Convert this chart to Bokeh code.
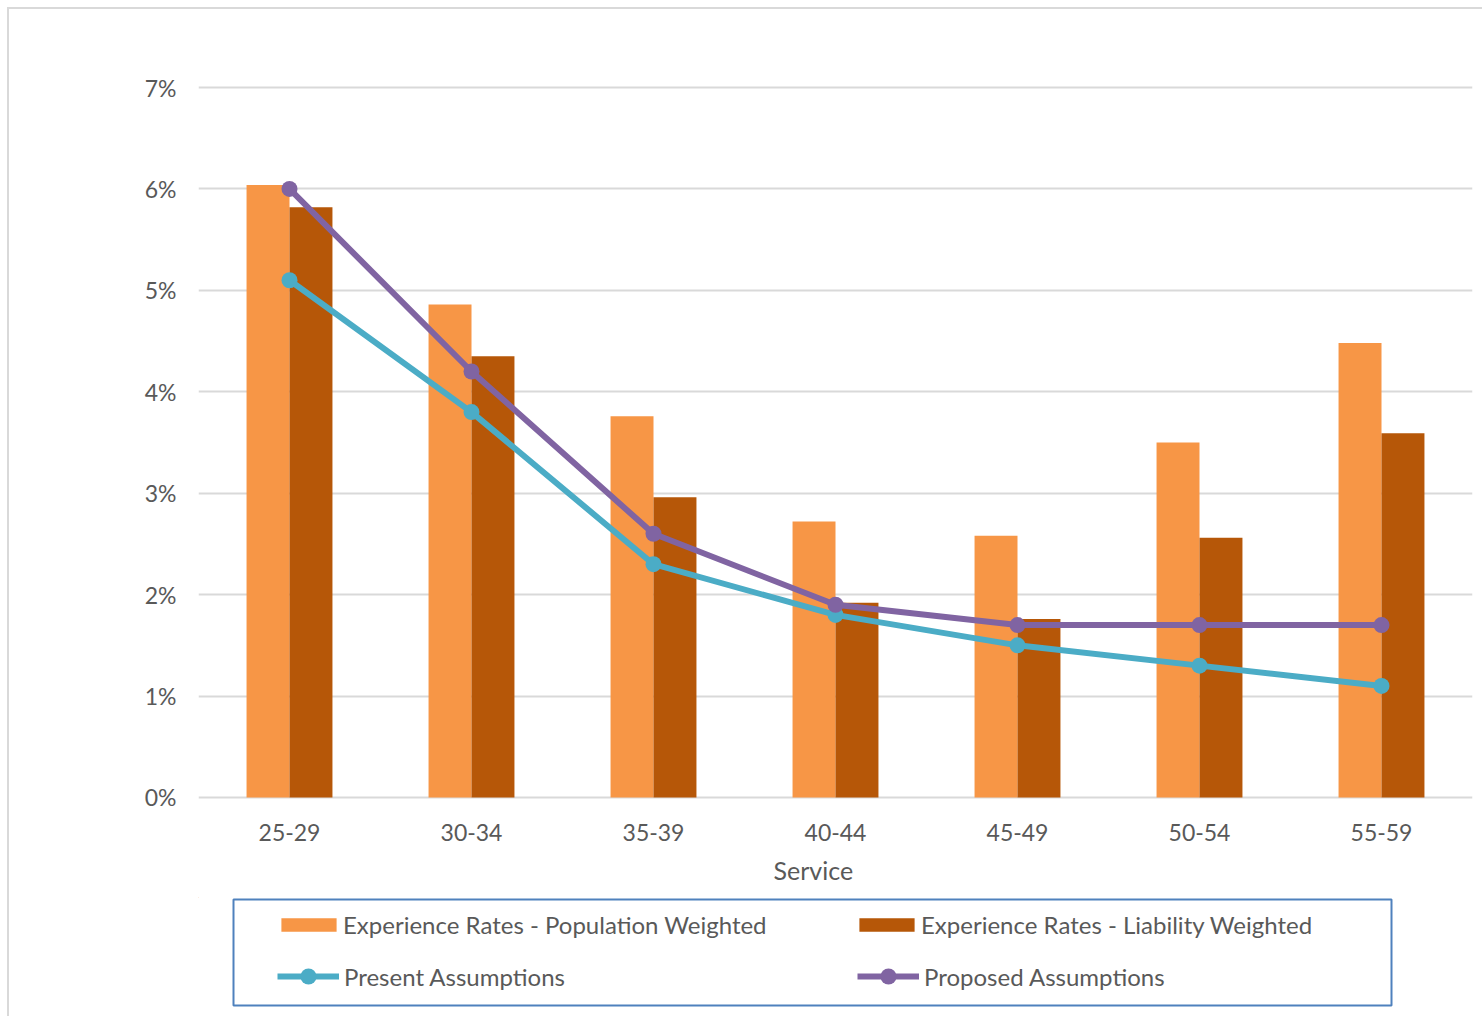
from bokeh.plotting import figure
from bokeh.layouts import column
from bokeh.models import (FactorRange, Legend, LegendItem, Title, BoxAnnotation, Range1d,
                          PrintfTickFormatter, FixedTicker, ColumnDataSource)
from bokeh.transform import dodge
from bokeh.embed import file_html
from bokeh.resources import INLINE

# ---- data ----
categories = ["25-29", "30-34", "35-39", "40-44", "45-49", "50-54", "55-59"]
pop_weighted = [6.04, 4.86, 3.76, 2.72, 2.58, 3.50, 4.48]
liab_weighted = [5.82, 4.35, 2.96, 1.92, 1.76, 2.56, 3.59]
present = [5.1, 3.8, 2.3, 1.8, 1.5, 1.3, 1.1]
proposed = [6.0, 4.2, 2.6, 1.9, 1.7, 1.7, 1.7]
y_ticks = [0, 1, 2, 3, 4, 5, 6, 7]
x_title = "Service"
labels = ["Experience Rates - Population Weighted", "Experience Rates - Liability Weighted",
          "Present Assumptions", "Proposed Assumptions"]

FONT = "Lato"
TEXT = "#595959"
C_POP = "#F79646"
C_LIAB = "#B65708"
C_PRES = "#4BACC6"
C_PROP = "#8064A2"
LW, MS = 6, 16

W, H = 1482, 1016
OFF = 9            # outer chart-area border offset
SPLIT = 897        # page y where the legend strip starts
BL, BR = 198, 10   # left / right borders shared by both figures

src = ColumnDataSource(dict(cat=categories, pop=pop_weighted, liab=liab_weighted,
                            present=present, proposed=proposed))

# ---------------- main chart ----------------
p = figure(x_range=FactorRange(*categories, range_padding=0), y_range=(-0.02, 7.02),
           width=W - OFF, height=SPLIT - OFF, output_backend="svg", toolbar_location=None,
           min_border_left=BL - OFF, min_border_right=BR, min_border_top=85 - OFF,
           min_border_bottom=SPLIT - 799)

bw = 0.236
p.vbar(x=dodge("cat", -bw / 2, range=p.x_range), top="pop", width=bw, source=src,
       fill_color=C_POP, line_color=None)
p.vbar(x=dodge("cat", bw / 2, range=p.x_range), top="liab", width=bw, source=src,
       fill_color=C_LIAB, line_color=None)
p.line(x="cat", y="present", source=src, line_color=C_PRES, line_width=LW)
p.scatter(x="cat", y="present", source=src, size=MS, fill_color=C_PRES, line_color=None)
p.line(x="cat", y="proposed", source=src, line_color=C_PROP, line_width=LW)
p.scatter(x="cat", y="proposed", source=src, size=MS, fill_color=C_PROP, line_color=None)

p.outline_line_color = None
p.xgrid.grid_line_color = None
p.ygrid.grid_line_color = "#D9D9D9"
p.ygrid.grid_line_width = 2
p.yaxis.ticker = FixedTicker(ticks=y_ticks)
p.yaxis.formatter = PrintfTickFormatter(format="%d%%")
for ax in (p.xaxis, p.yaxis):
    ax.axis_line_color = None
    ax.major_tick_line_color = None
    ax.minor_tick_line_color = None
    ax.major_label_text_font = FONT
    ax.major_label_text_font_size = "23px"
    ax.major_label_text_color = TEXT
p.yaxis.major_label_standoff = 16
p.xaxis.major_label_standoff = 18

p.add_layout(Title(text=x_title, align="left", offset=773 - BL, standoff=20,
                   vertical_align="middle", text_font=FONT, text_font_size="25px",
                   text_font_style="normal", text_color=TEXT), "below")

# ---------------- legend strip (page-pixel coordinates) ----------------
LB = 1007
lg = figure(width=W - OFF, height=LB - SPLIT, x_range=Range1d(BL, W - BR),
            y_range=Range1d(LB, SPLIT), output_backend="svg", toolbar_location=None,
            min_border_left=BL - OFF, min_border_right=BR, min_border_top=0, min_border_bottom=0)
lg.axis.visible = False
lg.grid.visible = False
lg.outline_line_color = None
lg.add_layout(BoxAnnotation(left=233, right=1391, top=899, bottom=1005,
                            fill_alpha=0, fill_color=None,
                            line_color="#4F81BD", line_alpha=1.0, line_width=2))
# swatch renderers: one point kept outside the visible range, used only for legend keys
swatch = ColumnDataSource(dict(x=[-50], y=[-50]))
s_pop = lg.vbar(x="x", top="y", width=1, source=swatch, fill_color=C_POP, line_color=None)
s_liab = lg.vbar(x="x", top="y", width=1, source=swatch, fill_color=C_LIAB, line_color=None)
s_pres_l = lg.line(x="x", y="y", source=swatch, line_color=C_PRES, line_width=LW)
s_pres_m = lg.scatter(x="x", y="y", source=swatch, size=MS, fill_color=C_PRES, line_color=None)
s_prop_l = lg.line(x="x", y="y", source=swatch, line_color=C_PROP, line_width=LW)
s_prop_m = lg.scatter(x="x", y="y", source=swatch, size=MS, fill_color=C_PROP, line_color=None)

common = dict(background_fill_alpha=0, border_line_color=None, padding=0, margin=0,
              label_text_font=FONT, label_text_font_size="24px", label_text_color=TEXT,
              orientation="horizontal")
leg1 = Legend(items=[LegendItem(label=labels[0], renderers=[s_pop]),
                     LegendItem(label=labels[1], renderers=[s_liab])],
              location=(274 - BL, LB - 939), glyph_width=69, glyph_height=17,
              label_standoff=0, label_width=489, spacing=20, **common)
leg2 = Legend(items=[LegendItem(label=labels[2], renderers=[s_pres_l, s_pres_m]),
                     LegendItem(label=labels[3], renderers=[s_prop_l, s_prop_m])],
              location=(277 - BL, LB - 996), glyph_width=62, glyph_height=40,
              label_standoff=5, label_width=493, spacing=20, **common)
lg.add_layout(leg1)
lg.add_layout(leg2)

layout = column(p, lg, spacing=0, margin=(7, 0, 0, 7),
                styles={"border-left": "2px solid #D9D9D9", "border-top": "2px solid #D9D9D9",
                        "height": f"{H}px", "box-sizing": "border-box"})

open("out.html", "w").write(file_html(layout, INLINE))
